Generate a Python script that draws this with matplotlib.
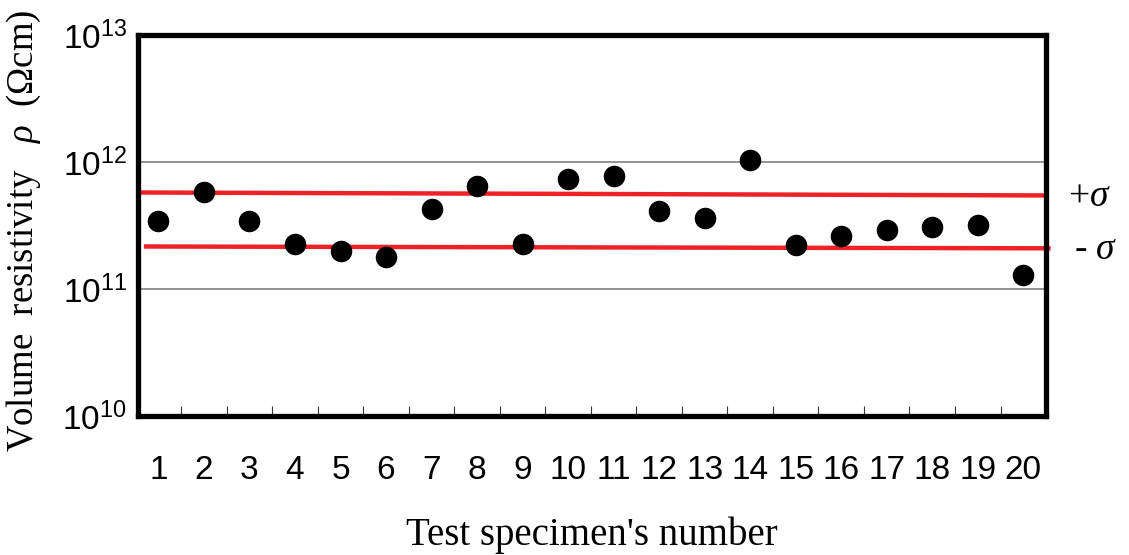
"""Volume resistivity of the 20 test specimens with the +/- sigma band."""

import matplotlib

matplotlib.use("Agg")
import matplotlib.pyplot as plt  # noqa: E402
from matplotlib.ticker import FixedLocator, NullLocator  # noqa: E402

plt.rcParams["font.family"] = ["Liberation Sans", "DejaVu Sans"]
plt.rcParams["mathtext.fontset"] = "custom"
plt.rcParams["mathtext.rm"] = "Liberation Serif"
plt.rcParams["mathtext.it"] = "Liberation Serif:italic"
plt.rcParams["mathtext.sf"] = "Liberation Sans"

specimens = list(range(1, 21))
resistivity = [
    3.45e11, 5.85e11, 3.4e11, 2.25e11, 2.0e11, 1.78e11, 4.3e11, 6.5e11, 2.25e11, 7.3e11,
    7.8e11, 4.1e11, 3.65e11, 1.04e12, 2.2e11, 2.6e11, 2.9e11, 3.05e11, 3.2e11, 1.28e11,
]
# band edges, left end -> right end (the drawn lines sag slightly)
plus_sigma = [5.75e11, 5.45e11]
minus_sigma = [2.16e11, 2.09e11]
y_ticks = [1e10, 1e11, 1e12, 1e13]
y_tick_labels = [r"$\mathsf{10^{10}}$", r"$\mathsf{10^{11}}$",
                 r"$\mathsf{10^{12}}$", r"$\mathsf{10^{13}}$"]

RED = "#ee2226"

fig = plt.figure(figsize=(11.29, 5.55), dpi=100)
ax = fig.add_axes([0.1222, 0.2505, 0.8043, 0.6865])
ax.set_yscale("log")
ax.set_ylim(1e10, 1e13)
ax.set_xlim(0.55, 20.5)

for yv in (1e11, 1e12):
    ax.axhline(yv, color="#808080", linewidth=1.2, zorder=1)

ax.plot([0.55, 20.5], plus_sigma, color=RED, linewidth=3.2, zorder=2,
        solid_capstyle="butt")
ax.plot([0.68, 20.6], minus_sigma, color=RED, linewidth=3.2, zorder=2,
        solid_capstyle="butt", clip_on=False)

ax.plot(specimens, resistivity, "o", color="black", markersize=14.5, zorder=3)

for side in ax.spines.values():
    side.set_linewidth(3.8)
    side.set_color("black")

ax.yaxis.set_major_locator(FixedLocator(y_ticks))
ax.yaxis.set_minor_locator(NullLocator())
ax.set_yticklabels(y_tick_labels)
ax.tick_params(axis="y", which="both", length=0, pad=8, labelsize=24)

ax.set_xticks(specimens)
ax.set_xticklabels([str(s) for s in specimens])
ax.xaxis.set_minor_locator(FixedLocator([s + 0.5 for s in specimens[:-1]]))
ax.tick_params(axis="x", which="major", length=0, pad=28, labelsize=24)
ax.tick_params(axis="x", which="minor", direction="in", length=7, width=0.8,
               color="#333333")

ax.set_xlabel("Test specimen's number", fontfamily="Liberation Serif",
              fontsize=28, labelpad=22)
ax.set_ylabel(r"Volume  resistivity   $\it{\rho}$  (Ωcm)",
              fontfamily="Liberation Serif", fontsize=26.5, labelpad=12)
ax.yaxis.set_label_coords(-0.105, 0.486)

ax.text(1.024, 0.575, r"+$\it{\sigma}$", transform=ax.transAxes,
        fontfamily="Liberation Serif", fontsize=27, ha="left", va="center")
ax.text(1.031, 0.435, r"- $\it{\sigma}$", transform=ax.transAxes,
        fontfamily="Liberation Serif", fontsize=27, ha="left", va="center")

fig.savefig("out.png", dpi=100, facecolor="white")
